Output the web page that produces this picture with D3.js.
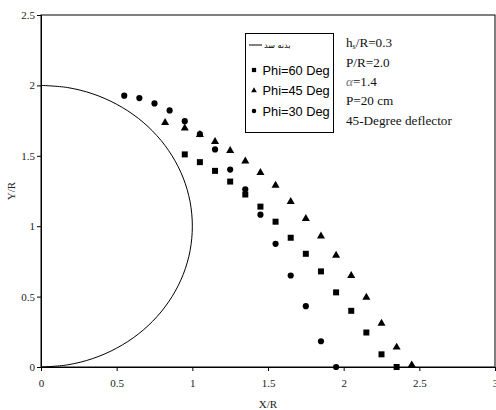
<!DOCTYPE html>
<html><head><meta charset="utf-8">
<script src="https://cdn.jsdelivr.net/npm/d3@7"></script>
<style>body{margin:0;background:#fff}svg{display:block}</style>
</head><body>
<svg id="c" width="496" height="410"></svg>
<script>
// Data
const xTicks = [0, 0.5, 1, 1.5, 2, 2.5, 3];
const yTicks = [0, 0.5, 1, 1.5, 2, 2.5];
// dam body outline (بدنه سد)
const damX = [0, 0.174, 0.342, 0.5, 0.643, 0.766, 0.866, 0.94, 0.985, 1, 0.985, 0.94, 0.866, 0.766, 0.643, 0.5, 0.342, 0.174, 0];
const damY = [0, 0.015, 0.06, 0.134, 0.234, 0.357, 0.5, 0.658, 0.826, 1, 1.174, 1.342, 1.5, 1.643, 1.766, 1.866, 1.94, 1.985, 2];
const phi60X = [0.95, 1.05, 1.15, 1.25, 1.35, 1.45, 1.55, 1.65, 1.75, 1.85, 1.95, 2.05, 2.15, 2.25, 2.35];
const phi60Y = [1.51, 1.455, 1.393, 1.317, 1.225, 1.139, 1.032, 0.918, 0.804, 0.679, 0.53, 0.399, 0.245, 0.09, 0];
const phi45X = [0.82, 0.95, 1.05, 1.15, 1.25, 1.35, 1.45, 1.55, 1.65, 1.75, 1.85, 1.95, 2.05, 2.15, 2.25, 2.35, 2.45];
const phi45Y = [1.735, 1.697, 1.65, 1.60, 1.537, 1.462, 1.38, 1.29, 1.174, 1.053, 0.93, 0.793, 0.648, 0.494, 0.309, 0.14, 0.014];
const phi30X = [0.55, 0.65, 0.75, 0.85, 0.95, 1.05, 1.15, 1.25, 1.35, 1.45, 1.55, 1.65, 1.75, 1.85, 1.95];
const phi30Y = [1.927, 1.91, 1.872, 1.822, 1.746, 1.654, 1.545, 1.402, 1.262, 1.082, 0.875, 0.65, 0.432, 0.183, 0];
const legendLabels = ["بدنه سد", "Phi=60 Deg", "Phi=45 Deg", "Phi=30 Deg"];
const notes = ["R=0.3", "P/R=2.0", "=1.4", "P=20 cm", "45-Degree deflector"];

const svg = d3.select("#c");
const L = 41, R = 495, T = 15, B = 367;
const x = d3.scaleLinear().domain([0, 3]).range([L, R]);
const y = d3.scaleLinear().domain([0, 2.5]).range([B, T]);
const serif = "'Liberation Serif','Times New Roman',serif";

// frame
svg.append("rect").attr("x", L).attr("y", T).attr("width", R - L).attr("height", B - T)
  .attr("fill", "none").attr("stroke", "#000").attr("stroke-width", 1);

const xAxis = svg.append("g").attr("transform", `translate(0,${B})`)
  .call(d3.axisBottom(x).tickValues(xTicks).tickFormat(d3.format("")).tickSize(4).tickPadding(8));
const yAxis = svg.append("g").attr("transform", `translate(${L},0)`)
  .call(d3.axisLeft(y).tickValues(yTicks).tickFormat(d3.format("")).tickSize(4).tickPadding(2));
[xAxis, yAxis].forEach(g => {
  g.select(".domain").attr("stroke", "#000");
  g.selectAll("line").attr("stroke", "#000");
  g.selectAll("text").attr("font-family", serif).attr("font-size", 11).attr("fill", "#222");
});

svg.append("text").attr("x", (L + R) / 2).attr("y", 408).attr("text-anchor", "middle")
  .attr("font-family", serif).attr("font-size", 11).attr("fill", "#222").text("X/R");
svg.append("text").attr("transform", `translate(15,${(T + B) / 2}) rotate(-90)`).attr("text-anchor", "middle")
  .attr("font-family", serif).attr("font-size", 11).attr("fill", "#222").text("Y/R");

// dam curve
const dam = damX.map((d, i) => [d, damY[i]]);
svg.append("path").datum(dam)
  .attr("d", d3.line().x(d => x(d[0])).y(d => y(d[1])).curve(d3.curveCatmullRom))
  .attr("fill", "none").attr("stroke", "#000").attr("stroke-width", 1);

const sq = d3.symbol().type(d3.symbolSquare).size(36);
const tri = d3.symbol().type(d3.symbolTriangle).size(28);
const cir = d3.symbol().type(d3.symbolCircle).size(30);

function drawSeries(xs, ys, sym) {
  svg.append("g").selectAll("path").data(xs.map((d, i) => [d, ys[i]])).join("path")
    .attr("d", sym).attr("transform", d => `translate(${x(d[0])},${y(d[1])})`).attr("fill", "#000");
}
drawSeries(phi45X, phi45Y, tri);
drawSeries(phi60X, phi60Y, sq);
drawSeries(phi30X, phi30Y, cir);

// legend
const lg = svg.append("g");
lg.append("rect").attr("x", 245.5).attr("y", 33.5).attr("width", 88).attr("height", 99)
  .attr("fill", "#fff").attr("stroke", "#000").attr("stroke-width", 1);
lg.append("line").attr("x1", 249).attr("x2", 262).attr("y1", 45).attr("y2", 45).attr("stroke", "#000");
lg.append("text").attr("x", 264).attr("y", 48).attr("font-family", "'DejaVu Sans',sans-serif")
  .attr("font-size", 8).attr("fill", "#000").text(legendLabels[0]);
const rowsY = [70, 90.5, 111];
const legSyms = [d3.symbol().type(d3.symbolSquare).size(18), d3.symbol().type(d3.symbolTriangle).size(14), d3.symbol().type(d3.symbolCircle).size(16)];
rowsY.forEach((ry, i) => {
  lg.append("path").attr("d", legSyms[i]).attr("transform", `translate(254,${ry})`).attr("fill", "#000");
  lg.append("text").attr("x", 262.5).attr("y", ry + 4.5).attr("font-family", "'Liberation Sans',Arial,sans-serif")
    .attr("font-size", 12.8).attr("fill", "#000").text(legendLabels[i + 1]);
});

// notes
const ny = [42.7, 62.5, 81.5, 100.5, 120];
const nt = svg.append("g").attr("font-family", serif).attr("font-size", 13.2).attr("fill", "#111");
const t0 = nt.append("text").attr("x", 346).attr("y", ny[0] + 4.5);
t0.append("tspan").text("h");
t0.append("tspan").attr("font-size", 8).attr("dy", 2).text("s");
t0.append("tspan").attr("dy", -2).text("/" + notes[0]);
nt.append("text").attr("x", 346).attr("y", ny[1] + 4.5).text(notes[1]);
const t2 = nt.append("text").attr("x", 346).attr("y", ny[2] + 4.5);
t2.append("tspan").attr("font-style", "italic").attr("fill", "#777").text("α");
t2.append("tspan").text(notes[2]);
nt.append("text").attr("x", 346).attr("y", ny[3] + 4.5).text(notes[3]);
nt.append("text").attr("x", 346).attr("y", ny[4] + 4.5).text(notes[4]);
</script>
</body></html>
